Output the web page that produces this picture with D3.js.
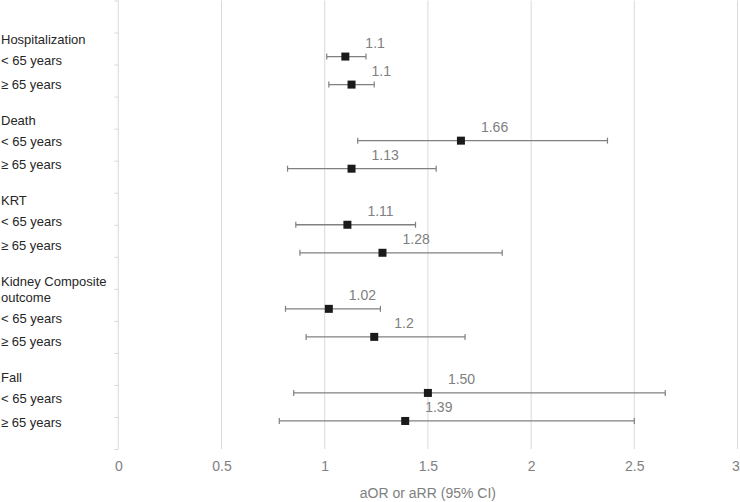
<!DOCTYPE html>
<meta charset="utf-8">
<style>
  body { margin: 0; background: #fff; }
  svg { display: block; font-family: "Liberation Sans", Arial, sans-serif; }
</style>
<body>
<div id="chart"></div>

<script src="https://d3js.org/d3.v7.min.js"></script>
<script>
// data
var groupNames = [["Hospitalization"], ["Death"], ["KRT"], ["Kidney Composite", "outcome"], ["Fall"]];
var ageNames = ["< 65 years", "\u2265 65 years"];
var estimates = [1.10, 1.13, 1.66, 1.13, 1.11, 1.28, 1.02, 1.24, 1.50, 1.39];
var lowerCI   = [1.01, 1.02, 1.16, 0.82, 0.86, 0.88, 0.81, 0.91, 0.85, 0.78];
var upperCI   = [1.20, 1.24, 2.37, 1.54, 1.44, 1.86, 1.27, 1.68, 2.65, 2.50];
var valueLabels = ["1.1", "1.1", "1.66", "1.13", "1.11", "1.28", "1.02", "1.2", "1.50", "1.39"];
var xTicks = [0, 0.5, 1, 1.5, 2, 2.5, 3];
var xTitle = "aOR or aRR (95% CI)";

// dimensions
var width = 740, height = 502;
var plotLeft = 118.3, plotRight = 737.5, plotTop = 0.5, plotBottom = 449;

var svg = d3.select("#chart").append("svg")
    .attr("width", width)
    .attr("height", height);

// scales
var x = d3.scaleLinear().domain([0, 3]).range([plotLeft, plotRight]);
var y = d3.scaleLinear().domain([0, 16]).range([plotTop, plotBottom]);
var yTick = d3.scaleLinear().domain([0, 14]).range([plotTop, plotBottom]);

// build rows: each group has two age rows, one blank row in between groups
var rows = [];
groupNames.forEach(function(g, gi) {
  ageNames.forEach(function(a, ai) {
    var i = gi * 2 + ai;
    rows.push({
      row: gi * 3 + 2 + ai,
      est: estimates[i], lo: lowerCI[i], hi: upperCI[i],
      label: valueLabels[i]
    });
  });
});

// vertical gridlines
svg.append("g")
  .selectAll("line")
  .data(xTicks)
  .enter().append("line")
    .attr("x1", function(d) { return x(d); })
    .attr("x2", function(d) { return x(d); })
    .attr("y1", plotTop)
    .attr("y2", plotBottom)
    .style("stroke", "#d9d9d9")
    .style("stroke-width", "1px");

// left axis with small ticks (no labels)
var yAxis = svg.append("g")
    .attr("transform", "translate(" + plotLeft + ",0)")
    .call(d3.axisLeft(yTick).ticks(14).tickSize(4).tickFormat(""));
yAxis.select(".domain").remove();
yAxis.selectAll("line").style("stroke", "#d9d9d9");

// x tick labels
var xAxis = svg.append("g")
    .attr("transform", "translate(0," + plotBottom + ")")
    .call(d3.axisBottom(x).tickValues(xTicks).tickSize(0).tickPadding(12).tickFormat(d3.format("")));
xAxis.select(".domain").remove();
xAxis.selectAll("text")
    .style("font-family", "'Liberation Sans', Arial, sans-serif")
    .style("font-size", "14px")
    .style("fill", "#808080");
// keep the last label inside the window
xAxis.selectAll(".tick").filter(function(d) { return d === 3; })
  .select("text").attr("dx", "-2");

// x axis title
svg.append("text")
    .attr("x", (plotLeft + plotRight) / 2)
    .attr("y", 498)
    .style("text-anchor", "middle")
    .style("font-size", "14px")
    .style("fill", "#808080")
    .text(xTitle);

// category labels on the left
var lines = [];
var ly = 39;
groupNames.forEach(function(g, gi) {
  if (gi > 0) ly += 36;
  g.forEach(function(t, ti) {
    if (ti > 0) ly += 16;
    lines.push({ text: t, y: ly });
  });
  ageNames.forEach(function(a, ai) {
    ly += ai === 0 ? 21 : 23.5;
    lines.push({ text: a, y: ly });
  });
});

svg.append("g")
  .selectAll("text")
  .data(lines)
  .enter().append("text")
    .attr("x", 1)
    .attr("y", function(d) { return d.y + 5; })
    .style("font-size", "13px")
    .style("fill", "#262626")
    .text(function(d) { return d.text; });

// error bars
var bars = svg.append("g").selectAll("g")
    .data(rows)
  .enter().append("g");

bars.append("line")
    .attr("x1", function(d) { return x(d.lo); })
    .attr("x2", function(d) { return x(d.hi); })
    .attr("y1", function(d) { return y(d.row); })
    .attr("y2", function(d) { return y(d.row); })
    .style("stroke", "#808080")
    .style("stroke-width", "1.3px");

bars.selectAll(".cap")
    .data(function(d) { return [{v: d.lo, row: d.row}, {v: d.hi, row: d.row}]; })
  .enter().append("line")
    .attr("class", "cap")
    .attr("x1", function(d) { return x(d.v); })
    .attr("x2", function(d) { return x(d.v); })
    .attr("y1", function(d) { return y(d.row) - 3; })
    .attr("y2", function(d) { return y(d.row) + 3; })
    .style("stroke", "#808080")
    .style("stroke-width", "1.2px");

// value labels (some have a white box, as in the original)
var fmt = d3.format(".2f");
var labels = svg.append("g").selectAll("g")
    .data(rows)
  .enter().append("g")
    .attr("transform", function(d) { return "translate(" + (x(d.est) + 20) + "," + (y(d.row) - 14) + ")"; });

labels.filter(function(d) { return d.label !== fmt(d.est); })
  .append("rect")
    .attr("x", -2)
    .attr("y", -9)
    .attr("width", 33)
    .attr("height", 17)
    .style("fill", "#fff");

labels.append("text")
    .attr("y", 5)
    .style("font-size", "14px")
    .style("fill", "#808080")
    .text(function(d) { return d.label; });

// point estimates
svg.append("g").selectAll("rect")
    .data(rows)
  .enter().append("rect")
    .attr("x", function(d) { return x(d.est) - 4; })
    .attr("y", function(d) { return y(d.row) - 4; })
    .attr("width", 8)
    .attr("height", 8)
    .style("fill", "#1a1a1a");
</script>
</body>
